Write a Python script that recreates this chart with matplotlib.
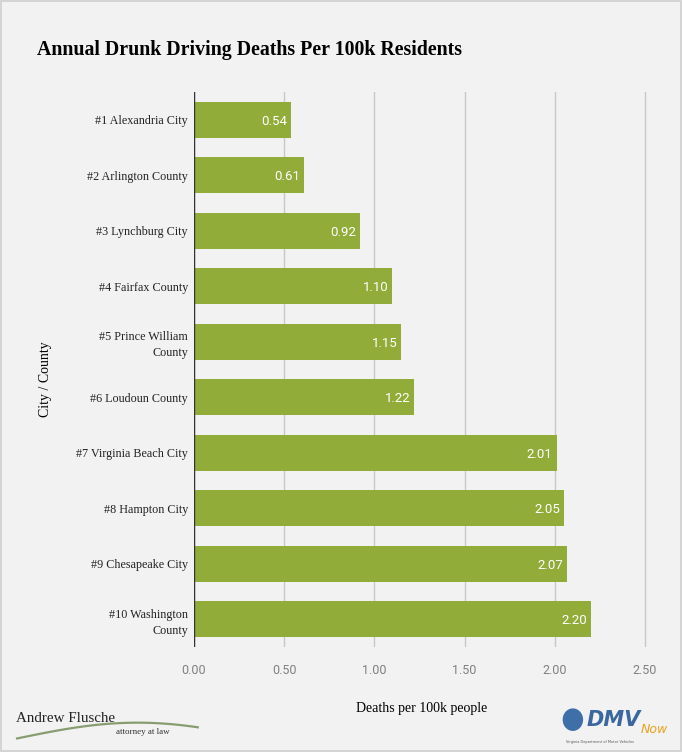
"""Annual drunk driving deaths per 100k residents, ten Virginia cities and counties."""

import matplotlib.pyplot as plt
import numpy as np
from matplotlib.patches import FancyBboxPatch, Rectangle

CATEGORIES = [
    "#1 Alexandria City",
    "#2 Arlington County",
    "#3 Lynchburg City",
    "#4 Fairfax County",
    "#5 Prince William\nCounty",
    "#6 Loudoun County",
    "#7 Virginia Beach City",
    "#8 Hampton City",
    "#9 Chesapeake City",
    "#10 Washington\nCounty",
]
DEATHS = [0.54, 0.61, 0.92, 1.10, 1.15, 1.22, 2.01, 2.05, 2.07, 2.20]
X_TICKS = [0.0, 0.5, 1.0, 1.5, 2.0, 2.5]

BG = "#f2f2f2"
BAR = "#92ac3a"
SERIF = ["Liberation Serif", "DejaVu Serif"]
X_MAX = 2.52


def main() -> None:
    fig = plt.figure(figsize=(6.82, 7.52), dpi=100, facecolor=BG)
    fig.patches.append(Rectangle((0.001, 0.001), 0.998, 0.998, transform=fig.transFigure,
                                 fill=False, edgecolor="#cfcfcf", linewidth=1.2))

    # x = 0 sits at pixel 194 and 2.50 at pixel 645
    width = (645 - 194) / 682 * X_MAX / 2.5
    ax = fig.add_axes([194 / 682, 0.1396, width, 0.7381], facecolor=BG)
    y = np.arange(len(CATEGORIES))
    bars = ax.barh(y, DEATHS, height=0.65, color=BAR, zorder=3)

    for rect, value in zip(bars, DEATHS):
        ax.text(rect.get_width() - 0.022, rect.get_y() + rect.get_height() / 2, f"{value:.2f}",
                ha="right", va="center_baseline", color="white", fontsize=9.5,
                family="Roboto", zorder=4)

    ax.set_xlim(0, X_MAX)
    ax.set_ylim(len(CATEGORIES) - 0.5, -0.5)
    ax.set_xticks(X_TICKS)
    ax.set_xticklabels([f"{t:.2f}" for t in X_TICKS], family="Roboto", color="#808080",
                       fontsize=9)
    ax.set_yticks(y)
    ax.set_yticklabels(CATEGORIES, family=SERIF, fontsize=8.7, color="#222222",
                       linespacing=1.45, multialignment="right")
    ax.tick_params(axis="y", length=0, pad=4.3)
    ax.tick_params(axis="x", length=0, pad=12)
    ax.grid(axis="x", color="#c8c8c8", linewidth=1, zorder=0)
    for spine in ax.spines.values():
        spine.set_visible(False)
    ax.axvline(0, color="#333333", linewidth=1, zorder=5)

    ax.set_xlabel("Deaths per 100k people", family=SERIF, fontsize=10, labelpad=18)
    fig.text(0.067, 0.496, "City / County", rotation=90, family=SERIF, fontsize=10,
             ha="center", va="center")

    fig.text(0.054, 0.934, "Annual Drunk Driving Deaths Per 100k Residents", family=SERIF,
             fontsize=14.3, fontweight="bold", ha="left", va="center")

    # Andrew Flusche logo, roughly
    fig.text(0.024, 0.044, "Andrew Flusche", family=SERIF, fontsize=10.8, color="#222222",
             ha="left", va="center")
    fig.text(0.17, 0.027, "attorney at law", family=SERIF, fontsize=6.5, color="#333333",
             ha="left", va="center")
    sx = np.linspace(0.025, 0.29, 60)
    sy = 0.018 + 0.021 * np.sin((sx - 0.025) / 0.265 * np.pi * 0.75)
    fig.add_artist(plt.Line2D(sx, sy, transform=fig.transFigure, color="#5a7a3a",
                              linewidth=1.6, alpha=0.7))

    # DMV Now logo, roughly
    fig.patches.append(FancyBboxPatch((0.825, 0.028), 0.03, 0.03, boxstyle="circle,pad=0",
                                      transform=fig.transFigure, facecolor="#3f6fa8",
                                      edgecolor="none"))
    fig.text(0.86, 0.043, "DMV", family="DejaVu Sans", fontsize=15, fontweight="bold",
             style="italic", color="#3b67a0", ha="left", va="center")
    fig.text(0.94, 0.03, "Now", family="DejaVu Sans", fontsize=9, style="italic",
             color="#e8a21c", ha="left", va="center")
    fig.text(0.83, 0.013, "Virginia Department of Motor Vehicles", fontsize=2.5,
             color="#555555", ha="left", va="center")

    fig.savefig("out.png", dpi=100, facecolor=BG)
    plt.close(fig)


if __name__ == "__main__":
    main()
